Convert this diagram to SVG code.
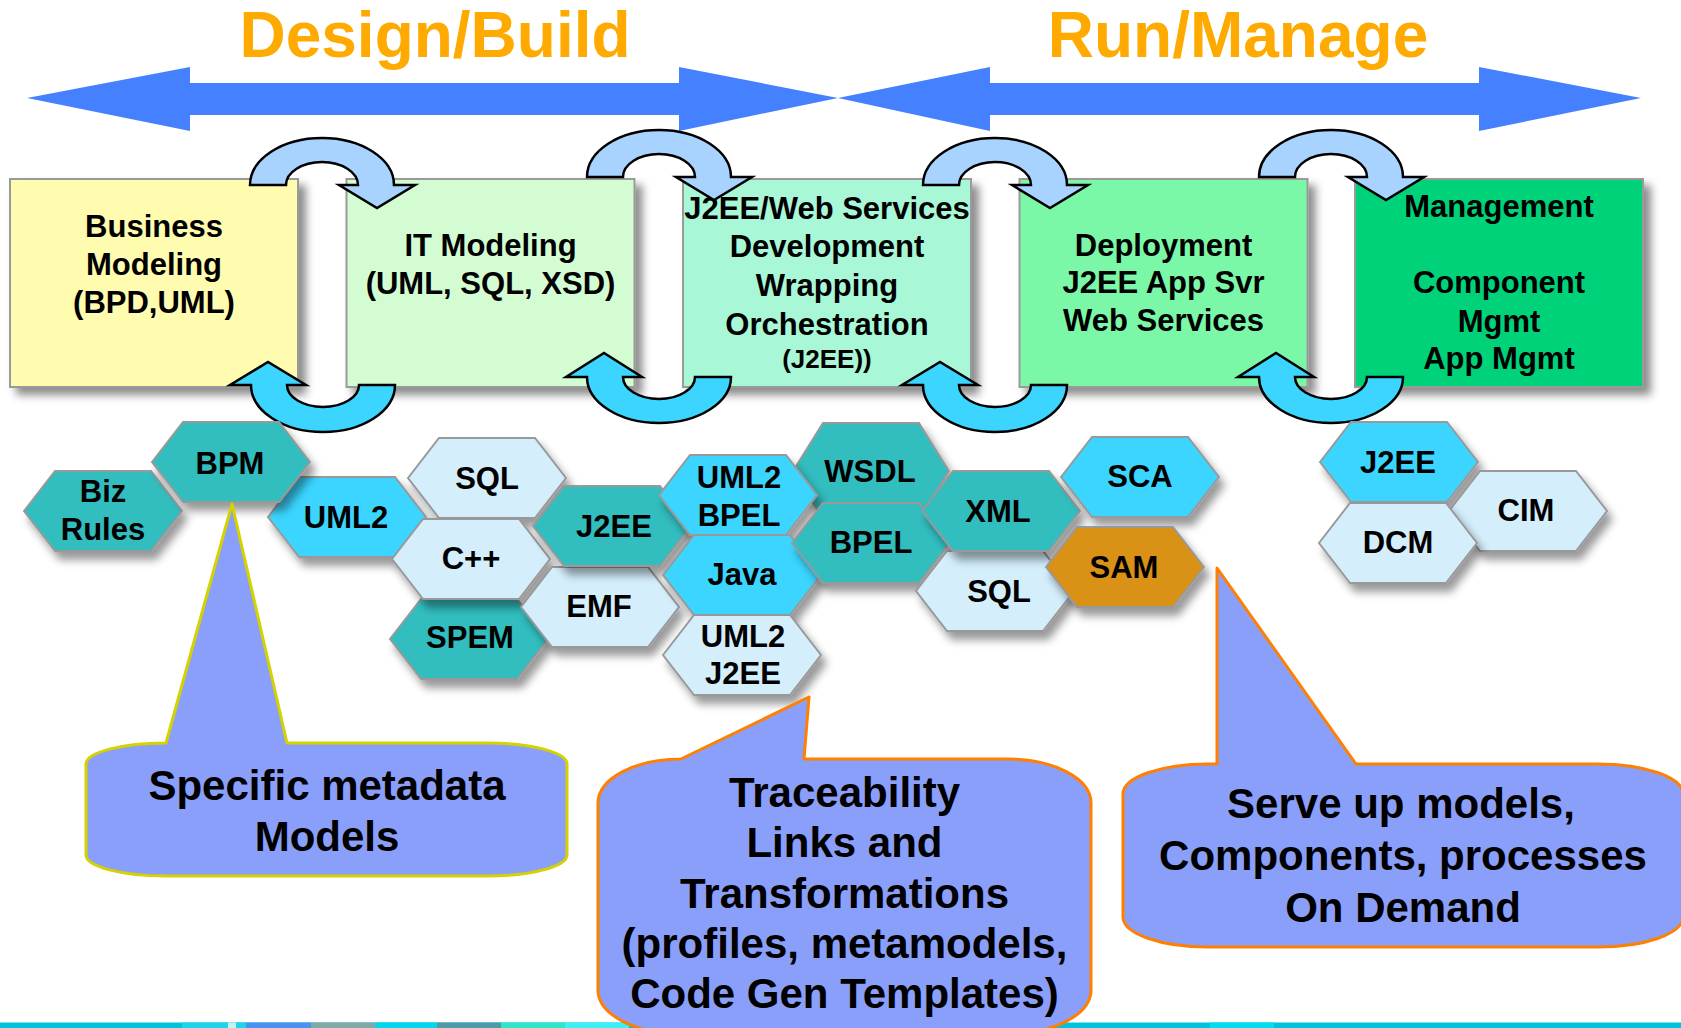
<svg xmlns="http://www.w3.org/2000/svg" xmlns:xlink="http://www.w3.org/1999/xlink" width="1681" height="1028" viewBox="0 0 1681 1028">
  <defs>
    <style>
      .t { font-family: "Liberation Sans", Arial, Helvetica, sans-serif; font-weight: bold; text-anchor: middle; fill: #000; }
      .title { font-size: 64px; fill: #FFAA00; }
      .bl { font-size: 31px; }
      .small { font-size: 26px; }
      .hl { font-size: 31px; }
      .cl { font-size: 42px; }
      .box { stroke: #9A9A9A; stroke-width: 2; }
      .hx { stroke: #999; stroke-width: 2; }
      .teal { fill: #33BDBF; }
      .cyan { fill: #3AD5FF; }
      .pale { fill: #D4EEFC; }
      .amber { fill: #D99119; }
      .span { fill: #4580FF; }
      .up { fill: #A8D3FF; stroke: #000; stroke-width: 2.5; stroke-linejoin: miter; }
      .down { fill: #3CD5FF; stroke: #000; stroke-width: 2.5; stroke-linejoin: miter; }
      .callout { fill: #8A9FFA; stroke-width: 3; stroke-linejoin: round; }
      .yel { stroke: #D6D200; }
      .org { stroke: #FF8000; }
    </style>
    <filter id="bs" x="-10%" y="-10%" width="130%" height="130%">
      <feDropShadow dx="7" dy="7" stdDeviation="4" flood-color="#000" flood-opacity="0.45"/>
    </filter>
    <filter id="hs" x="-15%" y="-20%" width="140%" height="160%">
      <feDropShadow dx="5" dy="8" stdDeviation="4" flood-color="#000" flood-opacity="0.4"/>
    </filter>
    <!-- flat-topped hexagon tile, centred on the origin -->
    <polygon id="hex" points="-79,0 -48,-40 48,-40 79,0 48,40 -48,40"/>
  </defs>

  <rect width="1681" height="1028" fill="#fff"/>

  <!-- phase headings -->
  <text class="t title" x="435" y="57">Design/Build</text>
  <text class="t title" x="1238" y="57">Run/Manage</text>

  <!-- lifecycle span arrows -->
  <g id="timeline">
    <polygon class="span" points="27,98 190,67 190,83 679,83 679,67 838,98 679,131 679,115 190,115 190,131"/>
    <polygon class="span" points="838,98 990,67 990,83 1479,83 1479,67 1641,98 1479,131 1479,115 990,115 990,131"/>
  </g>

  <!-- lifecycle stages -->
  <g id="business-modeling">
    <rect class="box" x="10" y="179" width="288" height="208" fill="#FFFBAF" filter="url(#bs)"/>
    <text class="t bl"><tspan x="154" y="237">Business</tspan><tspan x="154" y="275">Modeling</tspan><tspan x="154" y="313">(BPD,UML)</tspan></text>
  </g>
  <g id="it-modeling">
    <rect class="box" x="346.5" y="179" width="288" height="208" fill="#D3FCD3" filter="url(#bs)"/>
    <text class="t bl"><tspan x="490.5" y="256">IT Modeling</tspan><tspan x="490.5" y="294">(UML, SQL, XSD)</tspan></text>
  </g>
  <g id="development">
    <rect class="box" x="683" y="179" width="288" height="208" fill="#A8F8D8" filter="url(#bs)"/>
    <text class="t bl"><tspan x="827" y="219">J2EE/Web Services</tspan><tspan x="827" y="257">Development</tspan><tspan x="827" y="296">Wrapping</tspan><tspan x="827" y="335">Orchestration</tspan></text>
    <text class="t small" x="827" y="368">(J2EE))</text>
  </g>
  <g id="deployment">
    <rect class="box" x="1019.5" y="179" width="288" height="208" fill="#7AF8A8" filter="url(#bs)"/>
    <text class="t bl"><tspan x="1163.5" y="256">Deployment</tspan><tspan x="1163.5" y="293">J2EE App Svr</tspan><tspan x="1163.5" y="331">Web Services</tspan></text>
  </g>
  <g id="management">
    <rect class="box" x="1355" y="179" width="288" height="208" fill="#00D27A" filter="url(#bs)"/>
    <text class="t bl"><tspan x="1499" y="217">Management</tspan><tspan x="1499" y="293">Component</tspan><tspan x="1499" y="332">Mgmt</tspan><tspan x="1499" y="369">App Mgmt</tspan></text>
  </g>

  <!-- hand-off arrows between stages -->
  <g id="connectors">
    <path class="up" d="M 250,185 A 72 47 0 0 1 394,185 L 415,185 L 377,208 L 339,185 L 358,185 A 36 23 0 0 0 286,185 Z"/>
    <path class="up" d="M 587,177 A 72 47 0 0 1 731,177 L 752,177 L 714,200 L 676,177 L 695,177 A 36 23 0 0 0 623,177 Z"/>
    <path class="up" d="M 923,185 A 72 47 0 0 1 1067,185 L 1088,185 L 1050,208 L 1012,185 L 1031,185 A 36 23 0 0 0 959,185 Z"/>
    <path class="up" d="M 1259,177 A 72 47 0 0 1 1403,177 L 1424,177 L 1386,200 L 1348,177 L 1367,177 A 36 23 0 0 0 1295,177 Z"/>
    <path class="down" d="M 395,385 A 72 47 0 0 1 251,385 L 230,385 L 268,362 L 306,385 L 287,385 A 36 22 0 0 0 359,385 Z"/>
    <path class="down" d="M 731,377 A 72 46 0 0 1 587,377 L 566,377 L 604,353 L 642,377 L 623,377 A 36 22 0 0 0 695,377 Z"/>
    <path class="down" d="M 1067,385 A 72 47 0 0 1 923,385 L 902,385 L 940,362 L 978,385 L 959,385 A 36 22 0 0 0 1031,385 Z"/>
    <path class="down" d="M 1403,377 A 72 46 0 0 1 1259,377 L 1238,377 L 1276,353 L 1314,377 L 1295,377 A 36 22 0 0 0 1367,377 Z"/>
  </g>

  <!-- technology tiles -->
  <g id="hex-biz-rules">
    <use xlink:href="#hex" class="hx teal" x="103" y="511" filter="url(#hs)"/>
    <text class="t hl"><tspan x="103" y="502">Biz</tspan><tspan x="103" y="540">Rules</tspan></text>
  </g>
  <g id="hex-uml2">
    <use xlink:href="#hex" class="hx cyan" x="347" y="517" filter="url(#hs)"/>
    <text class="t hl" x="346" y="528">UML2</text>
  </g>
  <g id="hex-bpm">
    <use xlink:href="#hex" class="hx teal" x="231" y="462" filter="url(#hs)"/>
    <text class="t hl" x="230" y="474">BPM</text>
  </g>
  <g id="hex-spem">
    <use xlink:href="#hex" class="hx teal" x="469" y="639" filter="url(#hs)"/>
    <text class="t hl" x="470" y="648">SPEM</text>
  </g>
  <g id="hex-sql">
    <use xlink:href="#hex" class="hx pale" x="487" y="478" filter="url(#hs)"/>
    <text class="t hl" x="487" y="489">SQL</text>
  </g>
  <g id="hex-cpp">
    <use xlink:href="#hex" class="hx pale" x="471" y="559" filter="url(#hs)"/>
    <text class="t hl" x="471" y="569">C++</text>
  </g>
  <g id="hex-emf">
    <use xlink:href="#hex" class="hx pale" x="600" y="607" filter="url(#hs)"/>
    <text class="t hl" x="599" y="617">EMF</text>
  </g>
  <g id="hex-j2ee">
    <use xlink:href="#hex" class="hx teal" x="612" y="526" filter="url(#hs)"/>
    <text class="t hl" x="614" y="537">J2EE</text>
  </g>
  <g id="hex-wsdl">
    <polygon class="hx teal" points="793,471 823,423 919,423 949,471 919,519 823,519" filter="url(#hs)"/>
    <text class="t hl" x="870" y="482">WSDL</text>
  </g>
  <g id="hex-uml2-bpel">
    <use xlink:href="#hex" class="hx cyan" x="738" y="495" filter="url(#hs)"/>
    <text class="t hl"><tspan x="739" y="488">UML2</tspan><tspan x="739" y="526">BPEL</tspan></text>
  </g>
  <g id="hex-java">
    <use xlink:href="#hex" class="hx cyan" x="742" y="575" filter="url(#hs)"/>
    <text class="t hl" x="742" y="585">Java</text>
  </g>
  <g id="hex-uml2-j2ee">
    <use xlink:href="#hex" class="hx pale" x="742" y="655" filter="url(#hs)"/>
    <text class="t hl"><tspan x="743" y="647">UML2</tspan><tspan x="743" y="684">J2EE</tspan></text>
  </g>
  <g id="hex-bpel">
    <use xlink:href="#hex" class="hx teal" x="871" y="543" filter="url(#hs)"/>
    <text class="t hl" x="871" y="553">BPEL</text>
  </g>
  <g id="hex-sql-run">
    <use xlink:href="#hex" class="hx pale" x="995" y="591" filter="url(#hs)"/>
    <text class="t hl" x="999" y="602">SQL</text>
  </g>
  <g id="hex-xml">
    <use xlink:href="#hex" class="hx teal" x="1001" y="511" filter="url(#hs)"/>
    <text class="t hl" x="998" y="522">XML</text>
  </g>
  <g id="hex-sca">
    <use xlink:href="#hex" class="hx cyan" x="1140" y="477" filter="url(#hs)"/>
    <text class="t hl" x="1140" y="487">SCA</text>
  </g>
  <g id="hex-sam">
    <use xlink:href="#hex" class="hx amber" x="1125" y="567" filter="url(#hs)"/>
    <text class="t hl" x="1124" y="578">SAM</text>
  </g>
  <g id="hex-j2ee-run">
    <use xlink:href="#hex" class="hx cyan" x="1399" y="462" filter="url(#hs)"/>
    <text class="t hl" x="1398" y="473">J2EE</text>
  </g>
  <g id="hex-cim">
    <use xlink:href="#hex" class="hx pale" x="1528" y="511" filter="url(#hs)"/>
    <text class="t hl" x="1526" y="521">CIM</text>
  </g>
  <g id="hex-dcm">
    <use xlink:href="#hex" class="hx pale" x="1398" y="543" filter="url(#hs)"/>
    <text class="t hl" x="1398" y="553">DCM</text>
  </g>

  <!-- footer band -->
  <g id="footer-band">
    <rect x="0" y="1022.5" width="1681" height="6" fill="#00C3DF"/>
    <rect x="182" y="1022.5" width="64" height="6" fill="#1CD5E8"/>
    <rect x="228" y="1022.5" width="8" height="6" fill="#C8F2F2"/>
    <rect x="246" y="1022.5" width="65" height="6" fill="#4A92F2"/>
    <rect x="311" y="1022.5" width="64" height="6" fill="#82A8A8"/>
    <rect x="375" y="1022.5" width="62" height="6" fill="#00D6EE"/>
    <rect x="437" y="1022.5" width="64" height="6" fill="#4E9AA6"/>
    <rect x="501" y="1022.5" width="64" height="6" fill="#30E6C8"/>
    <rect x="565" y="1022.5" width="64" height="6" fill="#3CF0F8"/>
    <rect x="1210" y="1022.5" width="64" height="6" fill="#00DDEE"/>
  </g>

  <!-- callouts -->
  <g id="callout-metadata">
    <path class="callout yel" d="M 166,743 L 232,504 L 287,743 L 487,743 A 80 21 0 0 1 567,764 L 567,855 A 80 21 0 0 1 487,876 L 166,876 A 80 21 0 0 1 86,855 L 86,764 A 80 21 0 0 1 166,743 Z"/>
    <text class="t cl"><tspan x="327" y="800">Specific metadata</tspan><tspan x="327" y="851">Models</tspan></text>
  </g>
  <g id="callout-traceability">
    <path class="callout org" d="M 681,759 L 809,697 L 804,759 L 1008,759 A 83 44 0 0 1 1091,803 L 1091,990 A 83 44 0 0 1 1008,1034 L 681,1034 A 83 44 0 0 1 598,990 L 598,803 A 83 44 0 0 1 681,759 Z"/>
    <text class="t cl"><tspan x="844.5" y="807">Traceability</tspan><tspan x="844.5" y="857">Links and</tspan><tspan x="844.5" y="908">Transformations</tspan><tspan x="844.5" y="958">(profiles, metamodels,</tspan><tspan x="844.5" y="1008">Code Gen Templates)</tspan></text>
  </g>
  <g id="callout-serve">
    <path class="callout org" d="M 1217,764 L 1217,568 L 1356,764 L 1598,764 A 85 30 0 0 1 1683,794 L 1683,917 A 85 30 0 0 1 1598,947 L 1208,947 A 85 30 0 0 1 1123,917 L 1123,794 A 85 30 0 0 1 1208,764 Z"/>
    <text class="t cl"><tspan x="1401" y="818">Serve up models,</tspan><tspan x="1403" y="870">Components, processes</tspan><tspan x="1403" y="922">On Demand</tspan></text>
  </g>
</svg>
